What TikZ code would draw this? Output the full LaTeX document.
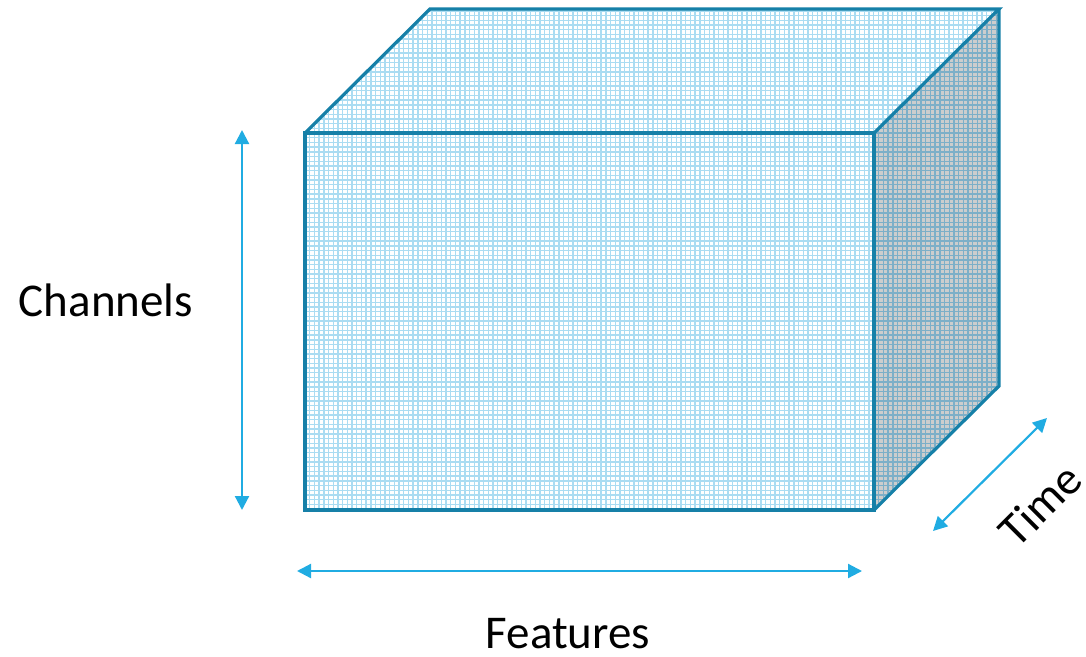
\documentclass[tikz,border=0pt]{standalone}
\usepackage{fontspec}
\setmainfont{Carlito}
\usetikzlibrary{arrows.meta}
\definecolor{edgec}{RGB}{22,128,168}
\definecolor{gridc}{RGB}{170,220,242}
\definecolor{sidegrid}{RGB}{125,175,200}
\definecolor{sidefill}{RGB}{205,205,205}
\definecolor{arrc}{RGB}{32,172,226}
\tikzset{
  edge/.style={draw=edgec, line width=3.2pt, line join=miter},
  gridline/.style={draw=gridc, line width=1.4pt},
  sidegridline/.style={draw=sidegrid, line width=1.4pt},
  dimarrow/.style={draw=arrc, line width=2.2pt, {Triangle[length=14pt,width=14pt]}-{Triangle[length=14pt,width=14pt]}},
  lbl/.style={font=\fontsize{47}{54}\selectfont, text=black, inner sep=0pt}
}
\begin{document}
\begin{tikzpicture}[x=1pt,y=-1pt]
\useasboundingbox (0,0) rectangle (1086,656);
% corners
\coordinate (A) at (305,133);
\coordinate (B) at (874,133);
\coordinate (C) at (874,510);
\coordinate (D) at (305,510);
\coordinate (E) at (430,9);
\coordinate (F) at (999,9);
\coordinate (G) at (999,386);
% front face
\begin{scope}
\clip (A) -- (B) -- (C) -- (D) -- cycle;
\fill[white] (A) rectangle (C);
\foreach \i in {0,...,125} {\draw[gridline] (305+\i*4.7,120) -- (305+\i*4.7,520);}
\foreach \i in {0,...,85} {\draw[gridline] (290,133+\i*4.7) -- (890,133+\i*4.7);}
\end{scope}
% top face
\begin{scope}
\clip (A) -- (E) -- (F) -- (B) -- cycle;
\fill[white] (A) -- (E) -- (F) -- (B) -- cycle;
\foreach \i in {0,...,150} {\draw[gridline] (305+\i*4.7,0) -- (305+\i*4.7,140);}
\foreach \i in {-3,...,30} {\draw[gridline] (290,133-\i*4.7) -- (1010,133-\i*4.7);}
\end{scope}
% side face
\begin{scope}
\clip (B) -- (F) -- (G) -- (C) -- cycle;
\fill[sidefill] (B) -- (F) -- (G) -- (C) -- cycle;
\foreach \i in {0,...,30} {\draw[sidegridline] (874+\i*4.7,0) -- (874+\i*4.7,520);}
\foreach \i in {-30,...,90} {\draw[sidegridline] (860,133+\i*4.7) -- (1010,133+\i*4.7);}
\end{scope}
% edges
\draw[edge] (A) -- (B) -- (C) -- (D) -- cycle;
\draw[edge] (A) -- (E) -- (F) -- (B);
\draw[edge] (F) -- (G) -- (C);
% dimension arrows
\coordinate (v1) at (242,130);
\coordinate (v2) at (242,510);
\coordinate (h1) at (297,571);
\coordinate (h2) at (862,571);
\coordinate (t1) at (933,531);
\coordinate (t2) at (1047,418);
\draw[dimarrow] (v1) -- (v2);
\draw[dimarrow] (h1) -- (h2);
\draw[dimarrow] (t1) -- (t2);
% labels
\node[lbl] (ch) at (106,300) {Channels};
\node[lbl] (fe) at (568,634) {Features};
\node[lbl, rotate=45] (ti) at (1040,505) {Time};
\end{tikzpicture}
\end{document}
